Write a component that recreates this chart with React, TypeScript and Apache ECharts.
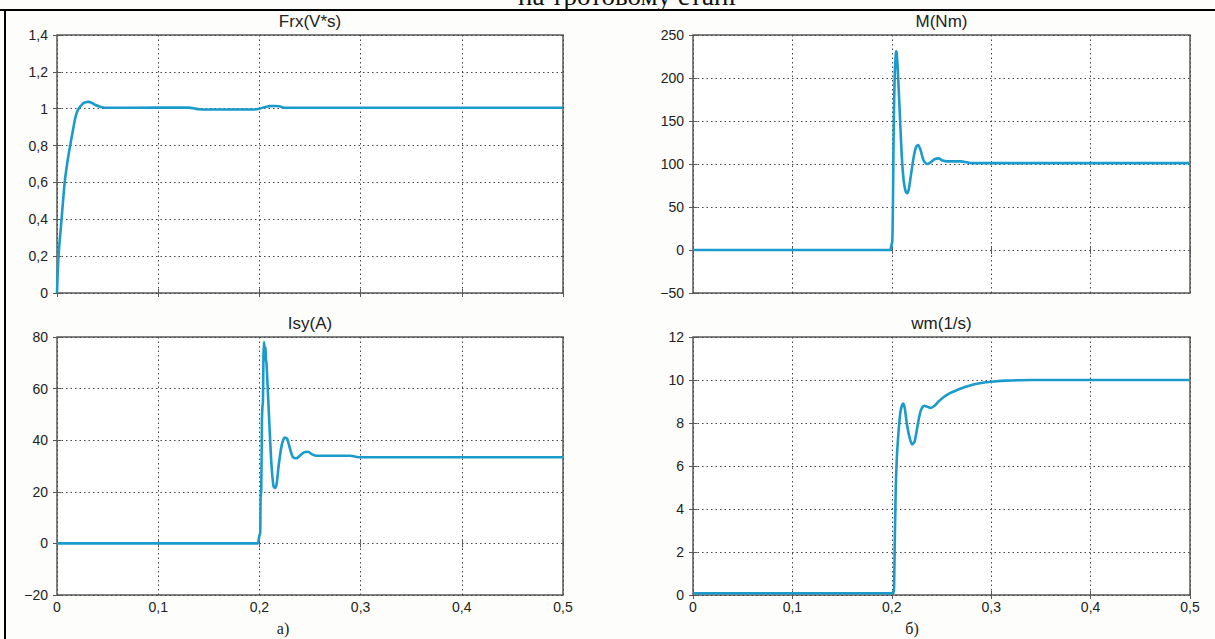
import React, { useEffect, useRef } from "react";
import * as echarts from "echarts";

// ---- data (time in s) ----
const frxT = [0, 0.0015, 0.0045, 0.0076, 0.010, 0.013, 0.016, 0.018, 0.020, 0.022, 0.025, 0.028, 0.031, 0.034, 0.038, 0.042, 0.046, 0.05, 0.10, 0.13, 0.135, 0.14, 0.15, 0.195, 0.20, 0.205, 0.21, 0.215, 0.22, 0.223, 0.226, 0.23, 0.30, 0.50];
const frxV = [0, 0.2, 0.4, 0.6, 0.7, 0.8, 0.89, 0.95, 0.985, 1.005, 1.025, 1.035, 1.037, 1.033, 1.02, 1.012, 1.006, 1.005, 1.006, 1.006, 1.003, 0.997, 0.996, 0.996, 1.0, 1.008, 1.014, 1.015, 1.013, 1.007, 1.005, 1.005, 1.005, 1.005];

const mT = [0, 0.198, 0.1995, 0.2005, 0.2012, 0.202, 0.203, 0.204, 0.2045, 0.205, 0.206, 0.208, 0.21, 0.212, 0.214, 0.2155, 0.217, 0.219, 0.222, 0.2245, 0.2265, 0.229, 0.232, 0.2355, 0.239, 0.243, 0.247, 0.251, 0.256, 0.27, 0.275, 0.28, 0.5];
const mV = [0, 0, 5, 10, 60, 150, 205, 228, 231, 228, 210, 160, 110, 80, 68, 66, 70, 85, 108, 120, 122, 116, 104, 100, 102, 105.5, 106.5, 104, 103, 103, 102, 101, 101];

const isyT = [0, 0.198, 0.1995, 0.2, 0.2008, 0.2012, 0.2018, 0.2025, 0.203, 0.2035, 0.204, 0.2045, 0.205, 0.2055, 0.206, 0.2065, 0.207, 0.208, 0.21, 0.212, 0.214, 0.2155, 0.217, 0.219, 0.222, 0.225, 0.2275, 0.23, 0.233, 0.2365, 0.24, 0.244, 0.248, 0.252, 0.256, 0.26, 0.29, 0.295, 0.3, 0.5];
const isyV = [0, 0, 2, 3, 4, 18, 20, 48, 53, 55, 72, 78, 76, 72, 76, 71, 70, 62, 45, 30, 22, 21.5, 23, 30, 38, 41, 40.5, 37, 33.5, 33, 34, 35.3, 35.5, 34.5, 34, 34, 34, 33.6, 33.4, 33.4];

const wmT = [0, 0.2015, 0.2025, 0.203, 0.204, 0.205, 0.206, 0.2075, 0.209, 0.2112, 0.213, 0.215, 0.218, 0.2205, 0.223, 0.226, 0.229, 0.2325, 0.236, 0.239, 0.243, 0.247, 0.252, 0.258, 0.265, 0.273, 0.283, 0.293, 0.303, 0.315, 0.33, 0.35, 0.5];
const wmV = [0.08, 0.08, 1.0, 2.5, 5.0, 6.3, 7.1, 8.0, 8.6, 8.9, 8.7, 8.0, 7.3, 7.0, 7.15, 7.9, 8.55, 8.8, 8.75, 8.7, 8.8, 9.0, 9.2, 9.38, 9.52, 9.66, 9.8, 9.88, 9.93, 9.97, 9.99, 10.0, 10.0];

const xTicks = { min: 0, max: 0.5, interval: 0.1 };
const titles = ["Frx(V*s)", "M(Nm)", "Isy(A)", "wm(1/s)"];
const yRanges = [
  { min: 0, max: 1.4, interval: 0.2 },
  { min: -50, max: 250, interval: 50 },
  { min: -20, max: 80, interval: 20 },
  { min: 0, max: 12, interval: 2 },
];
const captions = ["а)", "б)"];
const headerText = "на тротовому стані";

const LINE = "#1b9bcb";
const SANS = "Liberation Sans, Arial, sans-serif";

function fmt(v: number) {
  const s = String(+v.toFixed(2)).replace(".", ",");
  return s.startsWith("-") ? "\u2212" + s.slice(1) : s;
}

export default function App() {
  const ref = useRef<HTMLDivElement>(null);
  useEffect(() => {
    if (!ref.current) return;
    const chart = echarts.init(ref.current, null, { renderer: "svg" });
    const grids = [
      { left: 57, top: 35, width: 506, height: 258 },
      { left: 693, top: 35, width: 497, height: 258 },
      { left: 57, top: 337, width: 506, height: 258 },
      { left: 693, top: 337, width: 497, height: 258 },
    ];
    const seriesData = [
      frxT.map((t, i) => [t, frxV[i]]),
      mT.map((t, i) => [t, mV[i]]),
      isyT.map((t, i) => [t, isyV[i]]),
      wmT.map((t, i) => [t, wmV[i]]),
    ];
    const xAxis: any[] = [];
    const yAxis: any[] = [];
    const series: any[] = [];
    const gridOpts: any[] = [];
    grids.forEach((g, i) => {
      gridOpts.push({ ...g, show: true, borderColor: "#5a5a5a", borderWidth: 1.5, backgroundColor: "#fff" });
      const bottomLabels = i >= 2;
      xAxis.push({
        type: "value", gridIndex: i, ...xTicks, position: "bottom",
        axisLine: { show: false },
        axisTick: { show: true, inside: true, length: 4, lineStyle: { color: "#5a5a5a" } },
        axisLabel: { show: bottomLabels, formatter: fmt, color: "#222", fontFamily: SANS, fontSize: 14, margin: 5 },
        splitLine: { show: true, lineStyle: { type: [1.5, 3], color: "#444", width: 1 } },
      });
      xAxis.push({
        type: "value", gridIndex: i, ...xTicks, position: "top",
        axisLine: { show: false },
        axisTick: { show: true, inside: true, length: 4, lineStyle: { color: "#5a5a5a" } },
        axisLabel: { show: false }, splitLine: { show: false },
      });
      yAxis.push({
        type: "value", gridIndex: i, ...yRanges[i], position: "left",
        axisLine: { show: false },
        axisTick: { show: true, inside: true, length: 4, lineStyle: { color: "#5a5a5a" } },
        axisLabel: { formatter: fmt, color: "#222", fontFamily: SANS, fontSize: 14, margin: 9 },
        splitLine: { show: true, lineStyle: { type: [1.5, 3], color: "#444", width: 1 } },
      });
      yAxis.push({
        type: "value", gridIndex: i, ...yRanges[i], position: "right",
        axisLine: { show: false },
        axisTick: { show: true, inside: true, length: 4, lineStyle: { color: "#5a5a5a" } },
        axisLabel: { show: false }, splitLine: { show: false },
      });
      series.push({
        type: "line", xAxisIndex: i * 2, yAxisIndex: i * 2, data: seriesData[i],
        showSymbol: false, smooth: 0.25, lineStyle: { color: LINE, width: 2.6 }, clip: true,
      });
    });
    const titleOpts = grids.map((g, i) => ({
      text: titles[i], left: g.left + g.width / 2, top: g.top - 22, textAlign: "center", padding: 0,
      textStyle: { fontFamily: SANS, fontSize: 17, fontWeight: "normal", color: "#222" },
    }));
    chart.setOption({
      animation: false,
      backgroundColor: "#fdfdfb",
      title: titleOpts,
      grid: gridOpts,
      xAxis, yAxis, series,
      graphic: [
        { type: "text", x: 627, y: -4, style: { text: headerText, font: "27px 'Liberation Serif', serif", fill: "#111", align: "center", verticalAlign: "middle" } },
        { type: "rect", shape: { x: 0, y: 11, width: 1215, height: 10 }, style: { fill: "#fdfdfb" } },
        { type: "line", shape: { x1: 0, y1: 10, x2: 1215, y2: 10 }, style: { stroke: "#000", lineWidth: 2 } },
        { type: "line", shape: { x1: 5, y1: 10, x2: 5, y2: 639 }, style: { stroke: "#000", lineWidth: 2 } },
        { type: "text", x: 283, y: 628, style: { text: captions[0], font: "16px 'Liberation Serif', serif", fill: "#222", align: "center", verticalAlign: "middle" } },
        { type: "text", x: 912, y: 628, style: { text: captions[1], font: "16px 'Liberation Serif', serif", fill: "#222", align: "center", verticalAlign: "middle" } },
      ],
    });
    return () => chart.dispose();
  }, []);
  return <div ref={ref} style={{ position: "fixed", left: 0, top: 0, width: 1215, height: 639 }} />;
}
